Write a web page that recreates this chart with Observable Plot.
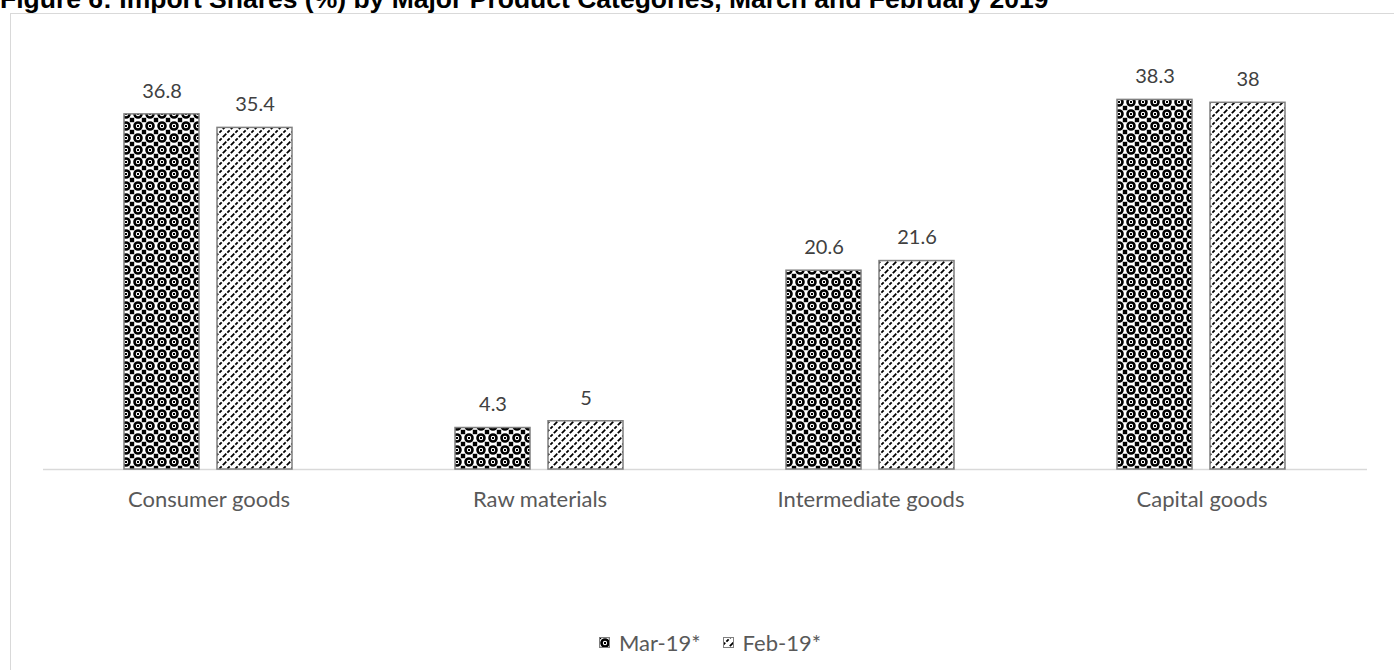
<!DOCTYPE html>
<html>
<head>
<meta charset="utf-8">
<script src="https://cdn.jsdelivr.net/npm/d3@7"></script>
<script src="https://cdn.jsdelivr.net/npm/@observablehq/plot@0.6"></script>
<style>
  html, body { margin: 0; padding: 0; background: #fff; }
  #wrap { position: relative; width: 1394px; height: 670px; overflow: hidden; background: #fff; }
  #frame { position: absolute; left: 10px; top: 13px; width: 1400px; height: 700px; border: 1.5px solid #d9d9d9; box-sizing: border-box; }
  #title { position: absolute; left: 0px; top: -14px; font: bold 26.5px "Liberation Sans", Arial, sans-serif; line-height: 26px; color: #000; white-space: nowrap; }
  #chart { position: absolute; left: 0; top: 0; }
  #legend { position: absolute; left: 13px; width: 1394px; top: 626px; text-align: center; font-family: Lato, "Open Sans", sans-serif; font-size: 22px; color: #595959; }
  #legend span.item { display: inline-flex; align-items: center; margin: 0 11px; }
  #legend svg { margin-right: 9px; }
</style>
</head>
<body>
<svg width="0" height="0" style="position:absolute">
  <defs>
    <pattern id="pMar" width="12" height="12" patternUnits="userSpaceOnUse">
      <rect width="12" height="12" fill="#fff"/>
      <circle cx="6" cy="6" r="3.5" fill="none" stroke="#000" stroke-width="2.6"/>
      <rect x="5" y="5" width="2" height="2" fill="#000"/>
      <rect x="-2.2" y="-2.2" width="4.4" height="4.4" fill="#000"/>
      <rect x="9.8" y="-2.2" width="4.4" height="4.4" fill="#000"/>
      <rect x="-2.2" y="9.8" width="4.4" height="4.4" fill="#000"/>
      <rect x="9.8" y="9.8" width="4.4" height="4.4" fill="#000"/>
    </pattern>
    <pattern id="pFeb" width="8" height="8" patternUnits="userSpaceOnUse">
      <rect width="8" height="8" fill="#fff"/>
      <path d="M0,8 L8,0" stroke="#000" stroke-width="1.8" stroke-dasharray="3.2,1.6"/>
      <path d="M-1,1 L1,-1 M7,9 L9,7" stroke="#000" stroke-width="1.8"/>
    </pattern>
  </defs>
</svg>
<div id="wrap">
  <div id="frame"></div>
  <div id="title">Figure 6: Import Shares (%) by Major Product Categories, March and February 2019</div>
  <div id="chart"></div>
  <div id="legend"></div>
</div>
<script>
const categories = ["Consumer goods", "Raw materials", "Intermediate goods", "Capital goods"];
const seriesNames = ["Mar-19*", "Feb-19*"];
const mar19 = [36.8, 4.3, 20.6, 38.3];
const feb19 = [35.4, 5, 21.6, 38];
const patterns = ["url(#pMar)", "url(#pFeb)"];

const data = categories.flatMap((c, i) => [
  {category: c, series: seriesNames[0], value: mar19[i]},
  {category: c, series: seriesNames[1], value: feb19[i]}
]);

const chart = Plot.plot({
  width: 1394,
  height: 670,
  marginLeft: 43,
  marginRight: 27,
  marginTop: 83,
  marginBottom: 201,
  style: {fontFamily: "Lato, 'Open Sans', sans-serif", fontSize: "22px", color: "#595959", background: "transparent", overflow: "visible"},
  fx: {domain: categories, padding: 0, label: null, axis: "bottom", tickSize: 0, tickPadding: 22},
  x: {domain: seriesNames, paddingInner: 0.19, paddingOuter: 0.857, axis: null},
  y: {domain: [0, 40], axis: null},
  marks: [
    Plot.ruleY([0], {stroke: "#d9d9d9", strokeWidth: 1.5}),
    ...seriesNames.map((s, k) => Plot.barY(data.filter(d => d.series === s), {
      fx: "category", x: "series", y: "value",
      fill: patterns[k], stroke: "#7f7f7f", strokeWidth: 1.5
    })),
    Plot.text(data, {
      fx: "category", x: "series", y: "value",
      text: d => String(d.value), dy: -23, fill: "#404040", fontSize: 20
    })
  ]
});
document.getElementById("chart").appendChild(chart);

const legend = document.getElementById("legend");
seriesNames.forEach((s, k) => {
  const item = document.createElement("span");
  item.className = "item";
  item.innerHTML = `<svg width="11" height="11"><rect x="0.5" y="0.5" width="10" height="10" fill="${patterns[k]}" stroke="#7f7f7f" stroke-width="1"/></svg>${s}`;
  legend.appendChild(item);
});
</script>
</body>
</html>
